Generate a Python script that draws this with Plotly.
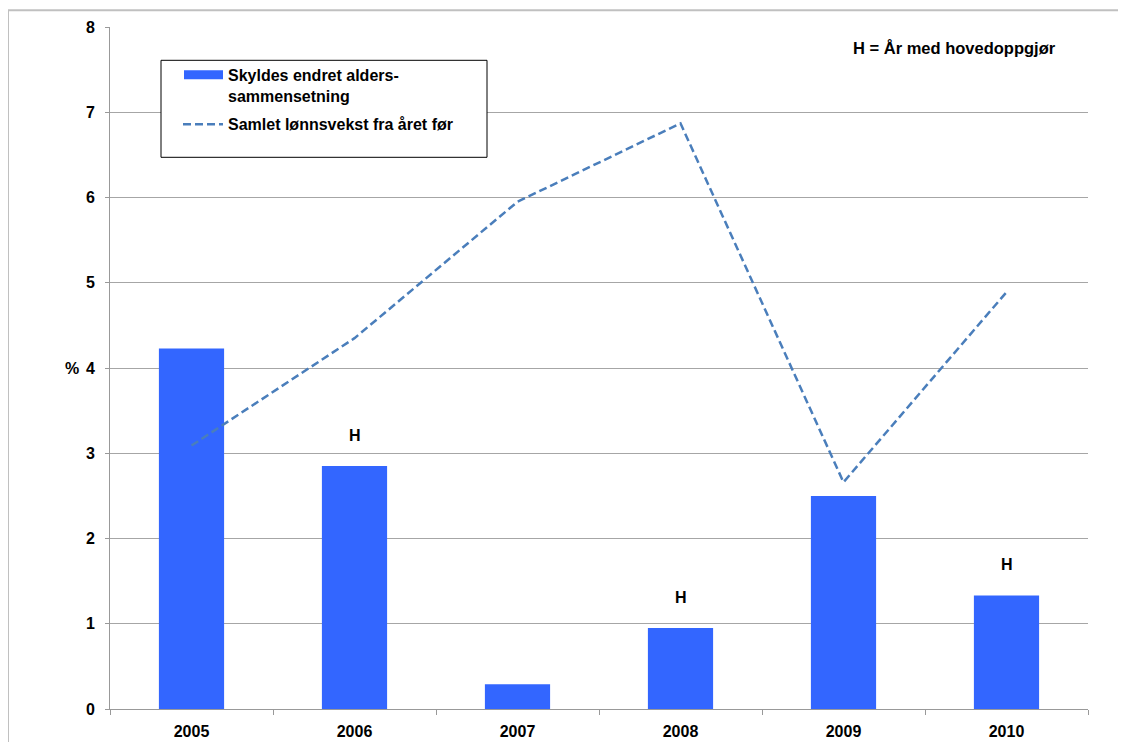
import plotly.graph_objects as go

years = ["2005", "2006", "2007", "2008", "2009", "2010"]
alders = [4.23, 2.85, 0.29, 0.95, 2.50, 1.33]
lonnsvekst = [3.09, 4.35, 5.95, 6.87, 2.66, 4.89]
hoved = ["", "H", "", "H", "", "H"]
y_ticks = [0, 1, 2, 3, 4, 5, 6, 7, 8]

W, H = 1126, 742
OFF = 8  # page body margin offset
L, R, T, B = 110 - OFF, 1088 - OFF, 26.7 - OFF, 708.7 - OFF
FONT = "Liberation Sans, Arial, sans-serif"


def px(x):
    return (x - OFF - L) / (R - L)


def py(y):
    return (B - (y - OFF)) / (B - T)


fig = go.Figure()
fig.add_trace(go.Bar(x=years, y=alders, marker=dict(color="#3366ff", line=dict(width=0)),
                     width=0.40, name="Skyldes endret alders-sammensetning", showlegend=False))
fig.add_trace(go.Scatter(x=years, y=lonnsvekst, mode="lines",
                         line=dict(color="#4a7ebb", width=2.5, dash="8px,4px"),
                         name="Samlet lønnsvekst fra året før", showlegend=False))

for i, (v, h) in enumerate(zip(alders, hoved)):
    if h:
        fig.add_annotation(x=i, y=v, text="<b>%s</b>" % h, showarrow=False, yshift=31,
                           font=dict(size=16, color="black", family=FONT))

shapes = []
# outer frame (top and left)
shapes.append(dict(type="line", xref="paper", yref="paper", x0=px(8), x1=px(1140), y0=py(10), y1=py(10),
                   line=dict(color="#c0c0c0", width=2)))
shapes.append(dict(type="line", xref="paper", yref="paper", x0=px(8), x1=px(8), y0=py(10), y1=py(760),
                   line=dict(color="#c0c0c0", width=2)))
# legend box
shapes.append(dict(type="rect", xref="paper", yref="paper", x0=px(161), x1=px(487), y0=py(157), y1=py(60),
                   line=dict(color="black", width=1), fillcolor="white"))
shapes.append(dict(type="rect", xref="paper", yref="paper", x0=px(184), x1=px(223), y0=py(79), y1=py(70),
                   line=dict(width=0), fillcolor="#3366ff"))
shapes.append(dict(type="line", xref="paper", yref="paper", x0=px(183), x1=px(223), y0=py(124), y1=py(124),
                   line=dict(color="#4a7ebb", width=2.5, dash="8px,4px")))
fig.update_layout(shapes=shapes)

fig.add_annotation(xref="paper", yref="paper", x=px(226), y=py(85.5), xanchor="left", yanchor="middle",
                   text="<b>Skyldes endret alders-<br>sammensetning</b>", showarrow=False, align="left",
                   font=dict(size=16, color="black", family=FONT))
fig.add_annotation(xref="paper", yref="paper", x=px(226), y=py(124), xanchor="left", yanchor="middle",
                   text="<b>Samlet lønnsvekst fra året før</b>", showarrow=False, align="left",
                   font=dict(size=16, color="black", family=FONT))
fig.add_annotation(xref="paper", yref="paper", x=px(1058), y=py(48), xanchor="right", yanchor="middle",
                   text="<b>H = År med hovedoppgjør</b>", showarrow=False,
                   font=dict(size=16.5, color="black", family=FONT))
fig.add_annotation(xref="paper", yref="y", x=px(72), y=4, xanchor="center", yanchor="middle",
                   text="<b>%</b>", showarrow=False, font=dict(size=16, color="black", family=FONT))

fig.update_layout(
    width=W, height=H,
    margin=dict(l=L, r=W - R, t=T, b=H - B),
    paper_bgcolor="white", plot_bgcolor="white",
    font=dict(family=FONT, size=16, color="black"),
    xaxis=dict(type="category", range=[-0.5, 5.5], autorange=False, automargin=False,
               showgrid=False, showline=True, linecolor="#999999", linewidth=1,
               ticks="outside", tickson="boundaries", ticklen=5, tickcolor="#999999",
               ticklabelstandoff=8,
               tickfont=dict(size=16, family=FONT, weight="bold"), tickangle=0),
    yaxis=dict(range=[0, 8], autorange=False, automargin=False, tickvals=y_ticks,
               ticktext=["<b>%d</b>" % v for v in y_ticks], showgrid=True,
               gridcolor="#a6a6a6", gridwidth=1,
               showline=True, linecolor="#999999", linewidth=1, ticks="outside", ticklen=4,
               tickcolor="#999999", ticklabelstandoff=7,
               tickfont=dict(size=16, family=FONT, weight="bold"), zeroline=False),
)

fig.write_html("out.html")
